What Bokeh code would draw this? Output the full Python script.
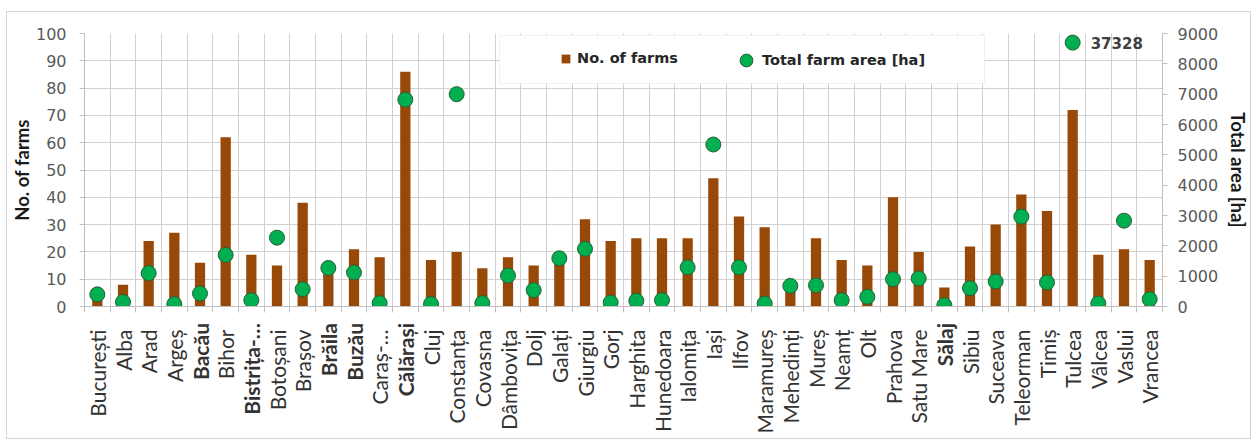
import numpy as np
from bokeh.plotting import figure
from bokeh.models import (ColumnDataSource, Range1d, LinearAxis, FixedTicker, LabelSet,
                          HTMLLabelSet, Legend, LegendItem, BoxAnnotation)
from bokeh.core.properties import value
from bokeh.embed import file_html
from bokeh.resources import INLINE

counties = ["București", "Alba", "Arad", "Argeș", "Bacău", "Bihor", "Bistrița-…", "Botoșani",
            "Brașov", "Brăila", "Buzău", "Caraș-…", "Călărași", "Cluj", "Constanța", "Covasna",
            "Dâmbovița", "Dolj", "Galați", "Giurgiu", "Gorj", "Harghita", "Hunedoara", "Ialomița",
            "Iași", "Ilfov", "Maramureș", "Mehedinți", "Mureș", "Neamț", "Olt", "Prahova",
            "Satu Mare", "Sălaj", "Sibiu", "Suceava", "Teleorman", "Timiș", "Tulcea", "Vâlcea",
            "Vaslui", "Vrancea"]
bold_counties = ["Bacău", "Bistrița-…", "Brăila", "Buzău", "Călărași", "Sălaj"]

farms = [6, 8, 24, 27, 16, 62, 19, 15, 38, 14, 21, 18, 86, 17, 20, 14, 18, 15, 17, 32, 24,
         25, 25, 25, 47, 33, 29, 8, 25, 17, 15, 40, 20, 7, 22, 30, 41, 35, 72, 19, 21, 17]
area_ha = [400, 150, 1100, 80, 430, 1700, 210, 2270, 570, 1270, 1120, 110, 6820, 80, 7000,
           110, 1020, 540, 1590, 1900, 130, 190, 210, 1290, 5340, 1290, 100, 680, 700, 210,
           320, 900, 925, 45, 605, 826, 2963, 793, 37328, 100, 2830, 240]

farm_ticks = list(range(0, 101, 10))
area_ticks = list(range(0, 9001, 1000))
AREA_CAP = 8700  # off-scale values are drawn at the top with their value written beside

FONT = "Lato"
HFONT = "DejaVu Sans"
BROWN = "#984807"
GREEN = "#00B050"
GRID = "#d0d0d0"
AXIS = "#bfbfbf"
TICK_TXT = "#595959"
CAT_SIZE = "21px"
CAT_COLOR = "#333333"

n = len(counties)
xs = [i + 0.5 for i in range(n)]
bounds = list(range(n + 1))
area_plot = [min(a, AREA_CAP) for a in area_ha]

src = ColumnDataSource(dict(x=xs, farms=farms, area=area_plot, name=counties))

p = figure(width=1245, height=428, x_range=Range1d(0, n), y_range=Range1d(0, 100),
           output_backend="svg", toolbar_location=None,
           min_border_left=73, min_border_right=89, min_border_top=21, min_border_bottom=134,
           background_fill_color="white", border_fill_color="white")
p.margin = (11, 0, 0, 6)
p.styles = {"border": "1px solid #d4d4d4"}
p.outline_line_color = None
p.extra_y_ranges = {"area": Range1d(0, 9000)}

# grids
p.xgrid.ticker = FixedTicker(ticks=bounds)
p.xgrid.grid_line_color = GRID
p.ygrid.grid_line_color = GRID

# bottom axis: labels at centres, tick marks at category boundaries
xa = p.xaxis[0]
xa.ticker = FixedTicker(ticks=xs, minor_ticks=bounds)
xa.major_label_overrides = {x: ("" if c in bold_counties else c) for x, c in zip(xs, counties)}
xa.major_label_orientation = np.pi / 2
xa.major_label_text_font = FONT
xa.major_label_text_font_size = CAT_SIZE
xa.major_label_text_color = CAT_COLOR
xa.major_label_standoff = 17
xa.major_tick_out = 0
xa.major_tick_in = 0
xa.minor_tick_out = 6
xa.minor_tick_in = 0
xa.minor_tick_line_color = AXIS
xa.axis_line_color = AXIS
xa.major_tick_line_color = None

# bold category names, placed where the axis puts its labels
bold_src = ColumnDataSource(dict(x=[x for x, c in zip(xs, counties) if c in bold_counties],
                                 text=[c for c in counties if c in bold_counties]))
p.add_layout(HTMLLabelSet(x="x", y=-17, y_units="screen", text="text", source=bold_src,
                          angle=np.pi / 2, text_align="right", text_baseline="middle",
                          text_font=value(FONT), text_font_style="bold",
                          text_font_size=CAT_SIZE, text_color=CAT_COLOR))

# left axis
ya = p.yaxis[0]
ya.ticker = FixedTicker(ticks=farm_ticks)
ya.axis_label = "No. of farms"
ya.axis_label_text_font = FONT
ya.axis_label_text_font_style = "bold"
ya.axis_label_text_font_size = "18.5px"
ya.axis_label_text_color = "#1a1a1a"
ya.axis_label_standoff = 0
ya.major_label_text_font = HFONT
ya.major_label_text_font_size = "16px"
ya.major_label_text_color = TICK_TXT
ya.major_label_standoff = 13
ya.major_tick_out = 5
ya.major_tick_in = 0
ya.minor_tick_line_color = None
ya.axis_line_color = AXIS
ya.major_tick_line_color = AXIS

# right axis
ra = LinearAxis(y_range_name="area", ticker=FixedTicker(ticks=area_ticks),
                axis_label="Total area [ha]")
ra.axis_label_text_font = FONT
ra.axis_label_text_font_style = "bold"
ra.axis_label_text_font_size = "18.5px"
ra.axis_label_text_color = "#1a1a1a"
ra.axis_label_standoff = 6
ra.major_label_text_font = HFONT
ra.major_label_text_font_size = "16px"
ra.major_label_text_color = TICK_TXT
ra.major_label_standoff = 10
ra.major_tick_out = 5
ra.major_tick_in = 0
ra.minor_tick_line_color = None
ra.axis_line_color = AXIS
ra.major_tick_line_color = AXIS
p.add_layout(ra, "right")

# glyphs
bars = p.vbar(x="x", top="farms", width=0.4, source=src, fill_color=BROWN, line_color=None)
dots = p.scatter(x="x", y="area", size=15, source=src, y_range_name="area",
                 fill_color=GREEN, line_color="#2a5d34", line_width=1)

# value label for off-scale point
over = [i for i, a in enumerate(area_ha) if a > AREA_CAP]
over_src = ColumnDataSource(dict(x=[xs[i] for i in over], y=[area_plot[i] for i in over],
                                 text=[str(area_ha[i]) for i in over]))
p.add_layout(LabelSet(x="x", y="y", text="text", source=over_src, y_range_name="area",
                      x_offset=18, text_baseline="middle", text_align="left",
                      text_font=value(HFONT), text_font_style="bold", text_font_size="15px",
                      text_color="#404040"))

# legend background
p.add_layout(BoxAnnotation(left=415, right=900, bottom=223, top=271,
                           left_units="screen", right_units="screen",
                           bottom_units="screen", top_units="screen",
                           fill_color="white", fill_alpha=1.0,
                           line_color="#d4d4d4", line_width=1))

leg_common = dict(orientation="horizontal", padding=0, margin=0, spacing=0,
                  background_fill_alpha=0, border_line_color=None,
                  label_text_font=HFONT, label_text_font_style="bold",
                  label_text_font_size="14.5px", label_text_color="#262626")
leg1 = Legend(items=[LegendItem(label="No. of farms", renderers=[bars])],
              location=(476, 240), glyph_width=11, glyph_height=11, label_height=11,
              label_standoff=6, **leg_common)
leg2 = Legend(items=[LegendItem(label="Total farm area [ha]", renderers=[dots])],
              location=(646, 230), glyph_width=32, glyph_height=32, label_height=32,
              label_standoff=0, **leg_common)
p.add_layout(leg1)
p.add_layout(leg2)

open("out.html", "w").write(file_html(p, INLINE))
